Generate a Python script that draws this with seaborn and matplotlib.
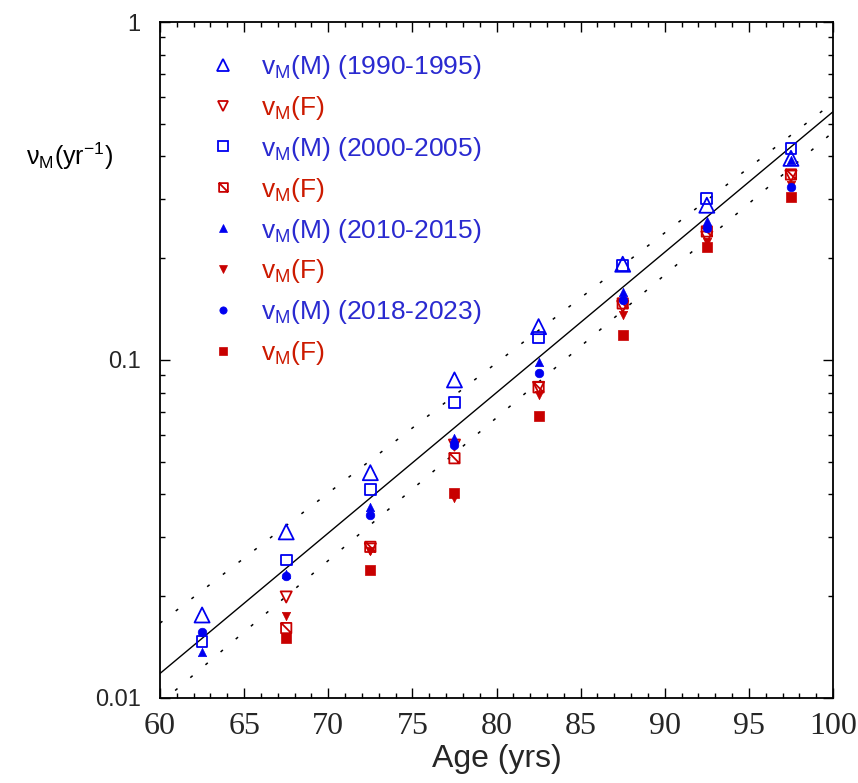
import numpy as np
import matplotlib
matplotlib.use("Agg")
import matplotlib.pyplot as plt
import seaborn as sns
from matplotlib.path import Path
from matplotlib.lines import Line2D
from matplotlib.ticker import MultipleLocator, FixedLocator, FixedFormatter, LogLocator, NullFormatter

# ---------------- data ----------------
ages = [62.5, 67.5, 72.5, 77.5, 82.5, 87.5, 92.5, 97.5]
nan = np.nan
m_1990 = [0.0176, 0.0310, 0.0464, 0.0873, 0.1255, 0.192, 0.287, 0.395]
f_1990 = [nan, 0.0199, 0.0276, 0.0560, 0.0830, 0.144, 0.231, 0.350]
m_2000 = [0.0147, 0.0256, 0.0414, 0.0748, 0.1167, 0.190, 0.301, 0.423]
f_2000 = [nan, 0.0161, 0.0280, 0.0512, 0.0830, 0.147, 0.240, 0.354]
m_2010 = [0.0137, 0.0232, 0.0367, 0.0587, 0.0989, 0.159, 0.257, 0.390]
f_2010 = [nan, 0.0175, 0.0272, 0.0390, 0.0788, 0.136, 0.224, 0.330]
m_2018 = [0.0157, 0.0229, 0.0348, 0.0561, 0.0917, 0.1505, 0.245, 0.326]
f_2018 = [nan, 0.0150, 0.0239, 0.0403, 0.0683, 0.1186, 0.2156, 0.304]

# Gompertz reference lines: log10(nu) at age 60 and slope (decades / yr)
line_names = ["fit", "upper", "lower"]
line_log_at60 = [-1.9275, -1.7786, -2.016]
line_slope = [0.04155, 0.0385, 0.04226]
line_ends = [60, 100]

x_ticks = [60, 65, 70, 75, 80, 85, 90, 95, 100]
y_ticks = [0.01, 0.1, 1]
y_ticklabels = ["0.01", "0.1", "1"]

legend_labels = [
    r"v$_\mathregular{M}$(M) (1990-1995)",
    r"v$_\mathregular{M}$(F)",
    r"v$_\mathregular{M}$(M) (2000-2005)",
    r"v$_\mathregular{M}$(F)",
    r"v$_\mathregular{M}$(M) (2010-2015)",
    r"v$_\mathregular{M}$(F)",
    r"v$_\mathregular{M}$(M) (2018-2023)",
    r"v$_\mathregular{M}$(F)",
]

# ---------------- style ----------------
sns.set_style("ticks")
plt.rcParams["font.family"] = ["Liberation Sans", "DejaVu Sans"]
plt.rcParams["mathtext.fontset"] = "custom"
plt.rcParams["mathtext.rm"] = "Liberation Sans"
plt.rcParams["mathtext.it"] = "Liberation Sans:italic"

BLUE = "#0000F0"
RED = "#C80000"
BLUE_TXT = "#2A2AD0"
RED_TXT = "#CC1A00"

# hatched square marker
hatch_sq = Path(
    [(-1, -1), (1, -1), (1, 1), (-1, 1), (-1, -1), (-1, 1), (1, -1)],
    [Path.MOVETO, Path.LINETO, Path.LINETO, Path.LINETO, Path.CLOSEPOLY, Path.MOVETO, Path.LINETO],
)

fig = plt.figure(figsize=(8.58, 7.83), dpi=100)
ax = fig.add_axes([0.1865, 0.1086, 0.7844, 0.8633])

# lines
for name, a, b in zip(line_names, line_log_at60, line_slope):
    xs = np.array(line_ends, dtype=float)
    ys = 10 ** (a + b * (xs - 60))
    sns.lineplot(x=xs, y=ys, ax=ax, color="black", lw=1.0 if name == "fit" else 1.1, zorder=1)
    if name != "fit":
        ax.lines[-1].set_linestyle((0, (2, 11)))

# series spec: (values, marker, size, color, open)
series = [
    (m_1990, "^", 117, BLUE, True),
    (f_1990, "v", 64, RED, True),
    (m_2000, "s", 60, BLUE, True),
    (f_2000, hatch_sq, 55, RED, True),
    (m_2010, "^", 36, BLUE, False),
    (f_2010, "v", 36, RED, False),
    (m_2018, "o", 38, BLUE, False),
    (f_2018, "s", 42, RED, False),
]

handles = []
for vals, mk, s, col, is_open in series:
    if is_open:
        sns.scatterplot(x=ages, y=vals, ax=ax, marker=mk, s=s, facecolor="none",
                        edgecolor=col, linewidth=1.3, zorder=3)
        handles.append(Line2D([], [], ls="", marker=mk, ms=np.sqrt(s) * 0.85,
                              mfc="none", mec=col, mew=1.3))
    else:
        sns.scatterplot(x=ages, y=vals, ax=ax, marker=mk, s=s, color=col,
                        edgecolor=col, linewidth=0.5, zorder=3)
        handles.append(Line2D([], [], ls="", marker=mk, ms=np.sqrt(s) * 0.85,
                              mfc=col, mec=col, mew=0.5))

ax.set_yscale("log")
ax.set_xlim(60, 100)
ax.set_ylim(0.01, 1)
ax.xaxis.set_major_locator(FixedLocator(x_ticks))
ax.xaxis.set_minor_locator(MultipleLocator(1))
ax.yaxis.set_major_locator(FixedLocator(y_ticks))
ax.yaxis.set_major_formatter(FixedFormatter(y_ticklabels))
ax.yaxis.set_minor_locator(LogLocator(base=10, subs=np.arange(2, 10)))
ax.yaxis.set_minor_formatter(NullFormatter())

ax.tick_params(which="both", direction="in", top=True, right=True, width=1.0, color="black")
ax.tick_params(which="major", length=7)
ax.tick_params(which="minor", length=3.5)
ax.tick_params(axis="y", which="major", labelsize=17, pad=14)
ax.tick_params(axis="x", which="major", pad=10)
for lab in ax.get_xticklabels():
    lab.set_fontfamily("Liberation Serif")
    lab.set_fontsize(23)
for sp in ax.spines.values():
    sp.set_linewidth(1.3)
    sp.set_color("black")

ax.set_xlabel("Age (yrs)", fontsize=23, labelpad=2)
ax.set_ylabel("")

fig.text(0.03, 0.80, "ν" + r"$_\mathregular{M}$(yr$^{\mathregular{-1}}$)", fontsize=18,
         ha="left", va="center", color="black")

leg = ax.legend(handles, legend_labels, loc="upper left", bbox_to_anchor=(0.058, 0.970),
                frameon=False, fontsize=19, handlelength=1.0, handletextpad=0.95,
                labelspacing=0.49, borderaxespad=0)
for i, t in enumerate(leg.get_texts()):
    t.set_color(BLUE_TXT if i % 2 == 0 else RED_TXT)

fig.savefig("out.png", dpi=100)
